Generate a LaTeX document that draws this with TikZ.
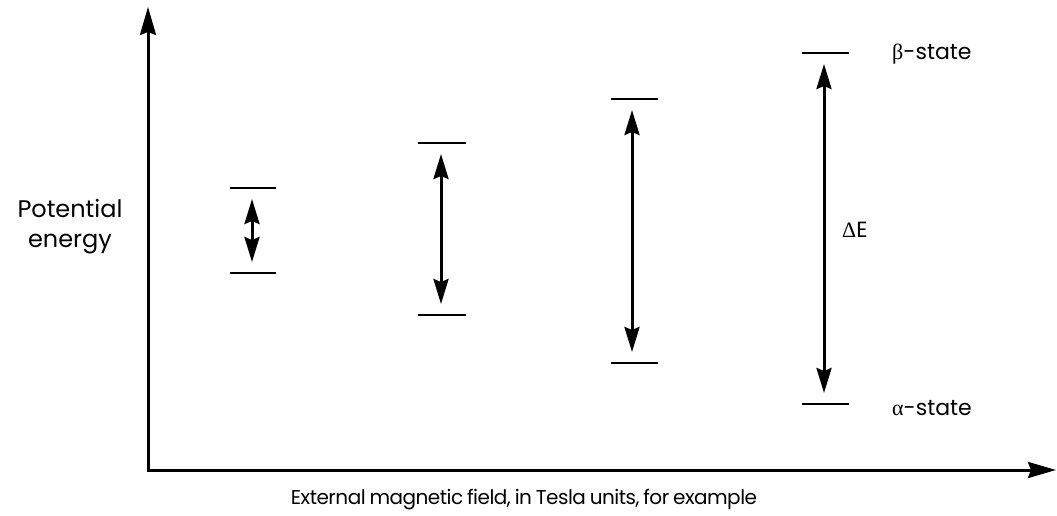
\documentclass[tikz,border=0pt]{standalone}
\usepackage{fontspec}
\setmainfont{Poppins}
\newfontfamily\grk{Liberation Serif}
\newfontfamily\tight[LetterSpace=-2.5,WordSpace=0.8]{Poppins}
\usetikzlibrary{arrows.meta}
\begin{document}
\begin{tikzpicture}[x=1pt,y=-1pt,
  axis/.style={line width=3pt,-{Stealth[length=28pt,width=16pt,inset=3pt]}},
  level/.style={line width=2.7pt},
  gap/.style={line width=3pt,{Stealth[length=25pt,width=15pt,inset=3pt]}-{Stealth[length=25pt,width=15pt,inset=3pt]}},
  lbl/.style={font=\tight\fontsize{20}{30}\selectfont, inner sep=0pt},
  big/.style={font=\fontsize{22}{30}\selectfont, inner sep=0pt}]
\useasboundingbox (0,0) rectangle (1057,516);
% axes
\coordinate (O) at (148,470);
\coordinate (ytop) at (148,7);
\coordinate (xend) at (1056,470);
\draw[axis] (O) -- (ytop);
\draw[axis] (146.5,470) -- (xend);
% levels
\foreach \n/\xa/\xb/\xc/\yt/\yb in {1/230/276/252/188/273, 2/418/466/441/143/315, 3/611/658/632/99/363, 4/802/849/824/53/404}{
  \coordinate (t\n a) at (\xa,\yt); \coordinate (t\n b) at (\xb,\yt);
  \coordinate (b\n a) at (\xa,\yb); \coordinate (b\n b) at (\xb,\yb);
  \coordinate (ut\n) at (\xc,\yt+11); \coordinate (ub\n) at (\xc,\yb-11);
  \draw[level] (t\n a) -- (t\n b);
  \draw[level] (b\n a) -- (b\n b);
  \draw[gap] (ut\n) -- (ub\n);
}
% labels
\node[big, anchor=west] (beta) at (892,54) {{\grk β}-state};
\node[big, anchor=west] (alpha) at (892,408) {{\grk α}-state};
\node[big, anchor=west] (dE) at (842,230) {{\grk Δ}E};
\node[big, align=center, font=\fontsize{24}{30}\selectfont] (pe) at (70,227) {Potential\\energy};
\node[lbl] (xl) at (524,500) {External magnetic field, in Tesla units, for example};
\end{tikzpicture}
\end{document}
